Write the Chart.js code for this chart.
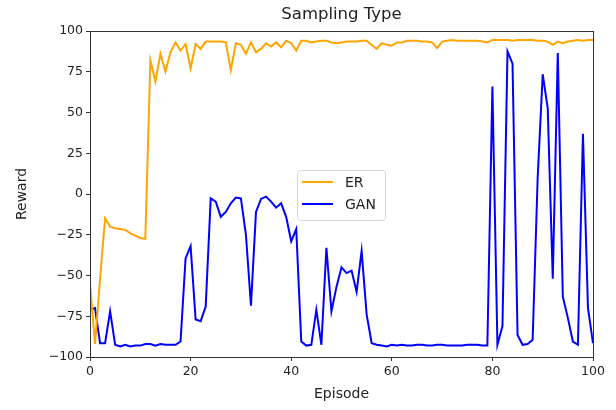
<!DOCTYPE html>
<html>
<head>
<meta charset="utf-8">
<script src="https://cdn.jsdelivr.net/npm/chart.js@4.4.1/dist/chart.umd.min.js"></script>
<style>
  html, body { margin: 0; padding: 0; background: #fff; }
  #wrap { width: 616px; height: 410px; position: relative; }
</style>
</head>
<body>
<div id="wrap"><canvas id="chart" width="616" height="410"></canvas></div>
<script>
'use strict';

// ── Data ──────────────────────────────────────────────────────
const episodes = Array.from({ length: 101 }, (_, i) => i);

const erReward = [
  -55, -92, -52, -15, -20, -21, -21.5, -22, -24, -25.5,
  -27, -27.5, 82, 69, 86, 75, 87, 93, 88, 92,
  77, 92, 89, 93.5, 93.5, 93.5, 93.5, 93, 76, 92.5,
  91.5, 86, 93, 87, 89, 92.5, 90.5, 93, 90, 94,
  92.5, 88, 94, 94, 93, 93.5, 94, 94, 93, 92.5,
  93, 93.5, 93.5, 93.5, 94, 94, 91.5, 89, 92.5, 91.5,
  91, 93, 93, 94, 94, 94, 93.5, 93.5, 93, 89.5,
  93.5, 94, 94.5, 94, 94, 94, 94, 94, 93.5, 93,
  94.5, 94.5, 94.5, 94.5, 94, 94.5, 94.5, 94.5, 94.5, 94,
  94, 93.5, 91.5, 93.5, 92.5, 93.5, 94, 94.5, 94, 94.5,
  94.5
];

const ganReward = [
  -71, -70, -91.5, -91.5, -72, -92.5, -93.5, -92.5, -93.5, -93,
  -93, -92, -92, -93, -92, -92.5, -92.5, -92.5, -90.5, -39.5,
  -32, -77, -78, -69, -2.7, -4.7, -14, -11, -5.7, -2.2,
  -2.7, -25, -68.5, -11, -3, -1.6, -4.7, -8.4, -5.7, -14,
  -29, -21.5, -90.5, -93, -92.5, -71, -92.5, -33, -72, -57,
  -45, -48.5, -47, -60, -35, -74, -91.5, -92.5, -93, -93.5,
  -92.5, -93, -92.5, -93, -93, -92.5, -92.5, -93, -93, -92.5,
  -92.5, -93, -93, -93, -93, -92.5, -92.5, -92.5, -93, -93,
  66, -92.5, -81, 87.5, 80, -86.5, -92.5, -92, -89.5, 10,
  73.5, 52.5, -52, 86.5, -63, -76, -90.5, -92.5, 37, -70,
  -91.5
];

const seriesNames = ['ER', 'GAN'];
const xTicks = [0, 20, 40, 60, 80, 100];
const yTicks = [-100, -75, -50, -25, 0, 25, 50, 75, 100];

// ── Look ──────────────────────────────────────────────────────
const FONT = 'DejaVu Sans';
const INK  = '#222';

// frame on all four sides + title, matplotlib style
const framePlugin = {
  id: 'frame',
  afterDraw(chart) {
    const { ctx, chartArea: a } = chart;
    ctx.save();
    ctx.strokeStyle = '#333';
    ctx.lineWidth = 1;
    ctx.strokeRect(Math.round(a.left) + 0.5, Math.round(a.top) + 0.5,
                   Math.round(a.right - a.left), Math.round(a.bottom - a.top));
    ctx.fillStyle = INK;
    ctx.font = `16.5px "${FONT}"`;
    ctx.textAlign = 'center';
    ctx.textBaseline = 'middle';
    ctx.fillText('Sampling Type', (a.left + a.right) / 2, 15);
    ctx.restore();
  }
};

// legend box floating inside the plot
const legendBox = {
  id: 'legendBox',
  afterDraw(chart) {
    const { ctx, chartArea: a } = chart;
    const x = a.left + 207, y = a.top + 139, w = 88, h = 50;
    ctx.save();
    ctx.beginPath();
    ctx.roundRect(x + 0.5, y + 0.5, w, h, 3);
    ctx.fillStyle = 'rgba(255,255,255,0.8)';
    ctx.fill();
    ctx.strokeStyle = '#d6d6d6';
    ctx.lineWidth = 1;
    ctx.stroke();
    ctx.font = `14px "${FONT}"`;
    ctx.textBaseline = 'middle';
    chart.data.datasets.forEach((ds, i) => {
      const ly = y + 12 + i * 22;
      ctx.strokeStyle = ds.borderColor;
      ctx.lineWidth = 2;
      ctx.beginPath();
      ctx.moveTo(x + 5, ly);
      ctx.lineTo(x + 36, ly);
      ctx.stroke();
      ctx.fillStyle = INK;
      ctx.fillText(ds.label, x + 48, ly + 1);
    });
    ctx.restore();
  }
};

const minus = v => String(v).replace('-', '\u2212');

new Chart(document.getElementById('chart'), {
  type: 'line',
  data: {
    labels: episodes,
    datasets: [
      { label: seriesNames[0], data: erReward,  borderColor: '#FFA500', borderWidth: 2, pointRadius: 0, tension: 0 },
      { label: seriesNames[1], data: ganReward, borderColor: '#0000FF', borderWidth: 2, pointRadius: 0, tension: 0 },
    ]
  },
  options: {
    responsive: false,
    animation: false,
    layout: { padding: { top: 31, right: 23, left: 0, bottom: 0 } },
    plugins: {
      legend: { display: false },
      title: { display: false },
      tooltip: { enabled: false }
    },
    scales: {
      x: {
        type: 'linear',
        min: 0, max: 100,
        afterFit: s => { s.height = 53; },
        afterBuildTicks: s => { s.ticks = xTicks.map(v => ({ value: v })); },
        ticks: { color: INK, font: { family: FONT, size: 12.5 }, padding: 3, maxRotation: 0 },
        grid: { drawOnChartArea: false, drawTicks: true, tickLength: 4, color: '#333' },
        border: { display: true, color: '#333' },
        title: { display: true, text: 'Episode', color: INK, font: { family: FONT, size: 14 }, padding: { top: 0, bottom: 7 } }
      },
      y: {
        min: -100, max: 100,
        afterFit: s => { s.width = 90; },
        afterBuildTicks: s => { s.ticks = yTicks.map(v => ({ value: v })); },
        ticks: { color: INK, font: { family: FONT, size: 12.5 }, padding: 3, callback: v => minus(v) },
        grid: { drawOnChartArea: false, drawTicks: true, tickLength: 4, color: '#333' },
        border: { display: true, color: '#333' },
        title: { display: true, text: 'Reward', color: INK, font: { family: FONT, size: 14 }, padding: { top: 14, bottom: 0 } }
      }
    }
  },
  plugins: [framePlugin, legendBox]
});
</script>
</body>
</html>
